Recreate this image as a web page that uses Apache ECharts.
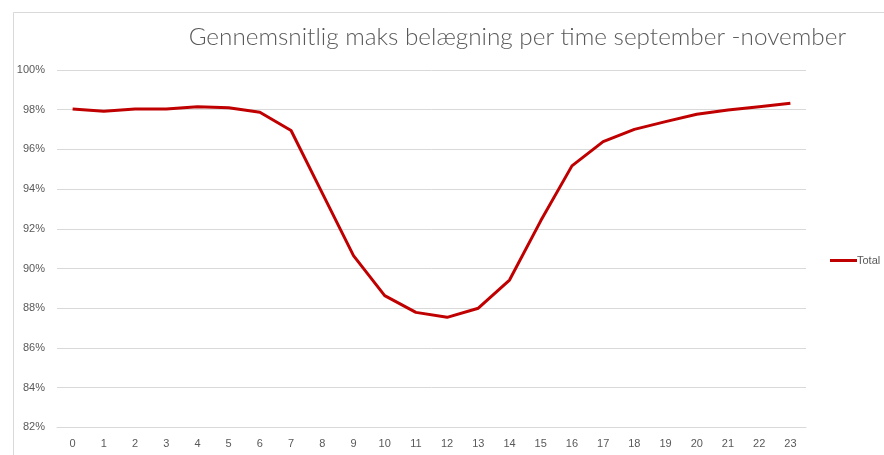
<!DOCTYPE html>
<html>
<head>
<meta charset="utf-8">
<script src="https://cdn.jsdelivr.net/npm/echarts@6/dist/echarts.min.js"></script>
<style>html,body{margin:0;padding:0;background:#fff}#c{width:884px;height:455px}</style>
</head>
<body>
<div id="c"></div>
<script>
const hours = ['0','1','2','3','4','5','6','7','8','9','10','11','12','13','14','15','16','17','18','19','20','21','22','23'];
const total = [98.04, 97.92, 98.04, 98.04, 98.15, 98.10, 97.87, 96.95, 93.8, 90.65, 88.63, 87.79, 87.54, 88.0, 89.42, 92.4, 95.17, 96.39, 97.01, 97.40, 97.77, 97.98, 98.15, 98.32];
const titleText = 'Gennemsnitlig maks belægning per time september -november';
const seriesName = 'Total';

const chart = echarts.init(document.getElementById('c'), null, {renderer: 'canvas'});
chart.setOption({
  animation: false,
  backgroundColor: '#ffffff',
  title: {
    text: titleText,
    right: 33,
    top: 20,
    textStyle: {fontFamily: 'Lato', fontWeight: 300, fontSize: 24.3, color: '#595959'}
  },
  graphic: [{
    type: 'rect', left: 11, top: 10, silent: true,
    shape: {width: 900, height: 500},
    style: {fill: 'none', stroke: '#d9d9d9', lineWidth: 1}
  }],
  grid: {left: 57, right: 78, top: 70, bottom: 27.7},
  legend: {
    data: [seriesName],
    left: 825, top: 250,
    icon: 'rect', itemWidth: 27, itemHeight: 3, itemGap: 2,
    textStyle: {fontFamily: 'Liberation Sans', fontSize: 11, color: '#595959', padding: [0,0,0,-5]}
  },
  xAxis: {
    type: 'category',
    data: hours,
    boundaryGap: true,
    axisLine: {show: true, lineStyle: {color: '#d9d9d9'}},
    axisTick: {show: false},
    axisLabel: {color: '#595959', fontFamily: 'Liberation Sans', fontSize: 11, margin: 11}
  },
  yAxis: {
    type: 'value',
    min: 82, max: 100, interval: 2,
    axisLine: {show: false},
    axisTick: {show: false},
    splitLine: {lineStyle: {color: '#d9d9d9', width: 1}},
    axisLabel: {formatter: '{value}%', color: '#595959', fontFamily: 'Liberation Sans', fontSize: 11, margin: 12}
  },
  series: [{
    name: seriesName,
    type: 'line',
    data: total,
    symbol: 'none',
    lineStyle: {color: '#c00000', width: 3},
    itemStyle: {color: '#c00000'}
  }]
});
</script>
</body>
</html>
